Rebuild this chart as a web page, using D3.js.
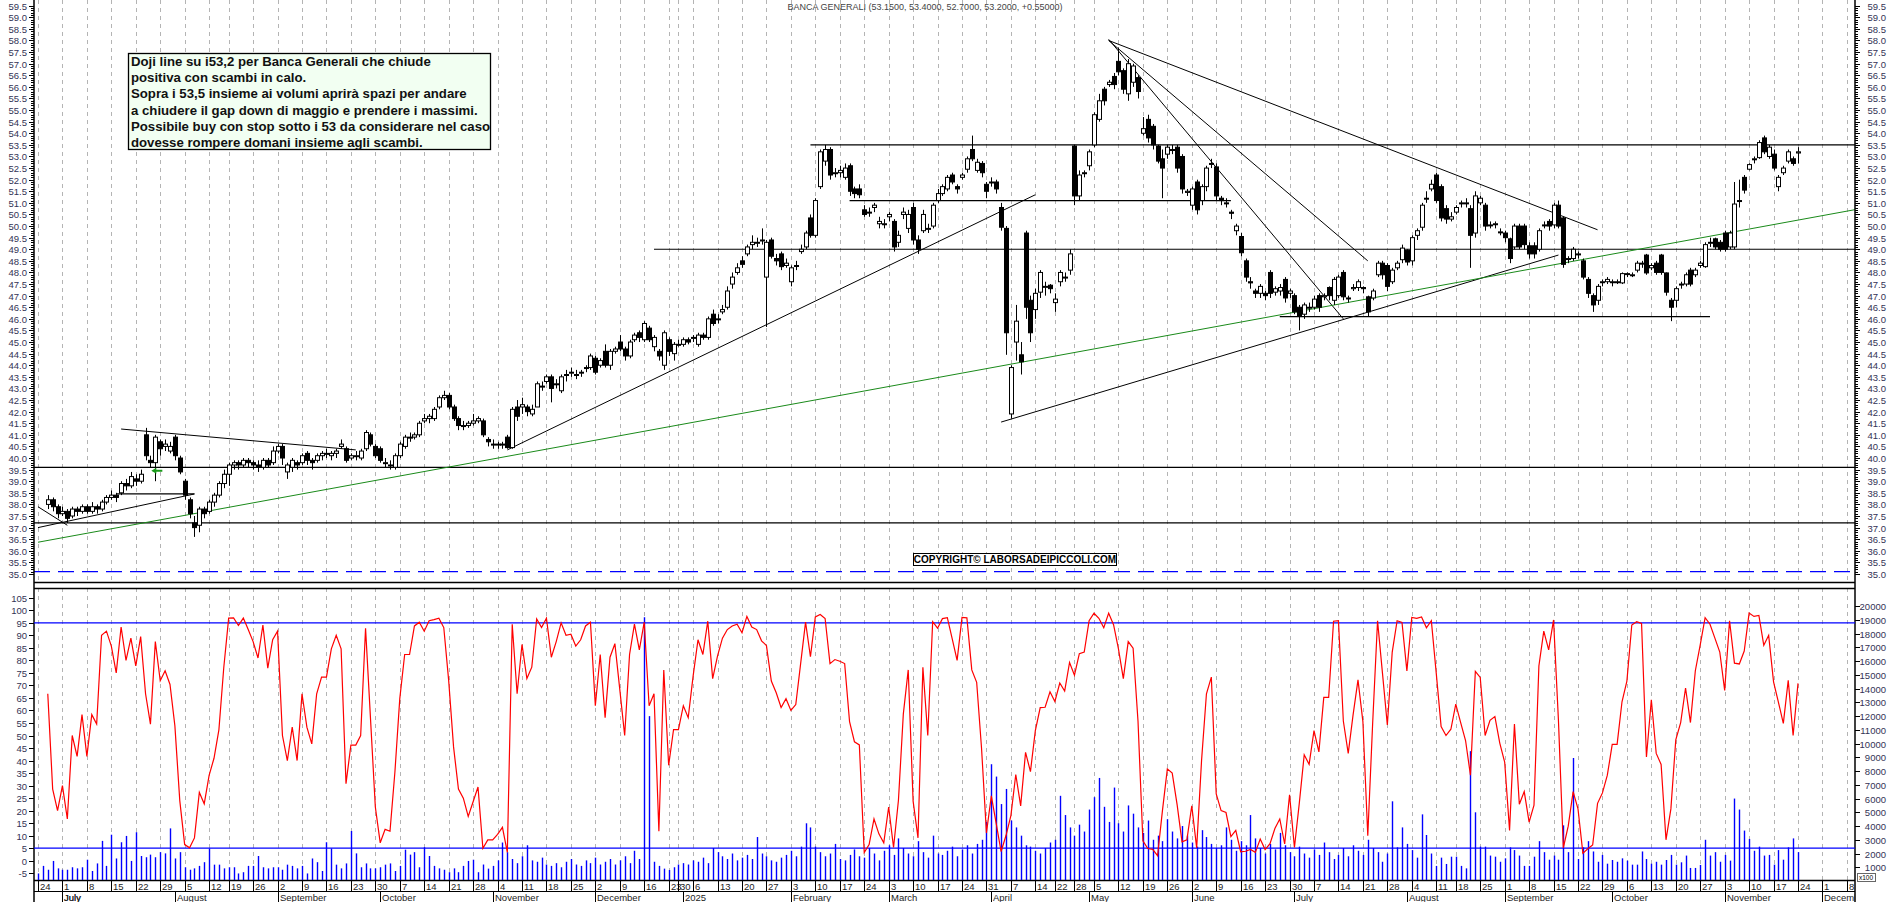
<!DOCTYPE html>
<html><head><meta charset="utf-8">
<script src="https://cdn.jsdelivr.net/npm/d3@7"></script>
<style>body{margin:0;background:#fff}svg{display:block}</style>
</head><body>
<svg id="c" width="1890" height="902"></svg>
<script>
// ---------- DATA ----------
const title = "BANCA GENERALI (53.1500, 53.4000, 52.7000, 53.2000, +0.55000)";
const holidays = ["2024-08-15","2024-12-24","2024-12-25","2024-12-26","2024-12-31","2025-01-01","2025-04-18","2025-04-21","2025-05-01","2025-08-15"];
const firstDay = "2024-06-24", lastDataDay = "2025-11-24", lastAxisDay = "2025-12-10";
// daily candles [open, close, high, low], oldest first, last = 2025-11-24
const ohlc = [
[38.0,38.2,38.4,37.8],[38.2,37.9,38.3,37.7],[37.9,37.6,38.0,37.4],[37.6,37.7,37.9,37.5],[37.7,37.4,37.8,37.2],
[37.5,37.8,37.9,37.4],[37.8,37.7,37.9,37.5],[37.7,37.9,38.0,37.6],[37.9,37.7,38.0,37.6],[37.7,37.9,38.1,37.6],
[37.9,37.8,38.0,37.6],[37.8,38.1,38.2,37.7],[38.1,38.3,38.4,38.0],[38.3,38.4,38.6,38.2],[38.4,38.3,38.5,38.1],
[38.5,38.9,39.0,38.4],[38.9,38.8,39.1,38.6],[38.8,39.2,39.4,38.7],[39.1,39.0,39.3,38.8],[39.0,39.3,39.5,38.9],
[41.0,40.1,41.3,39.9],[39.9,39.8,40.1,39.6],[39.8,40.9,41.0,39.0],[40.7,40.4,40.8,40.1],[40.5,40.6,40.8,40.3],
[40.3,40.5,40.7,40.2],[40.9,40.1,41.0,39.9],[40.0,39.4,40.1,39.3],[39.0,38.4,39.1,38.2],[38.2,37.6,38.3,37.4],
[37.2,37.0,37.5,36.6],[37.1,37.8,37.9,36.8],[37.8,37.6,37.9,37.4],[37.7,38.1,38.2,37.6],[38.1,38.4,38.5,37.9],
[38.4,38.9,39.0,38.3],[38.9,39.3,39.5,38.7],[39.3,39.7,39.8,38.8],[39.7,39.8,39.9,39.5],[39.8,39.7,39.9,39.5],
[39.7,39.9,40.0,39.6],[39.9,39.8,40.0,39.6],[39.8,39.7,39.9,39.5],[39.7,39.6,39.9,39.4],[39.6,39.9,40.0,39.5],
[39.9,39.7,40.0,39.6],[39.8,40.3,40.5,39.7],[40.3,40.5,40.6,40.2],[40.5,40.0,40.6,39.7],[39.4,39.7,39.8,39.1],
[39.6,39.9,40.0,39.4],[39.8,39.7,39.9,39.5],[39.8,40.1,40.2,39.7],[40.2,39.9,40.3,39.7],[39.9,39.8,40.0,39.5],
[39.9,40.1,40.2,39.8],[40.1,40.2,40.3,39.9],[40.2,40.2,40.4,40.0],[40.1,40.2,40.3,39.9],[40.2,40.3,40.4,40.0],
[40.5,40.6,40.8,40.4],[40.4,39.9,40.5,39.8],[40.0,40.1,40.2,39.9],[40.1,40.1,40.3,39.9],[40.0,40.3,40.4,39.9],
[40.4,41.1,41.2,40.3],[41.0,40.6,41.1,40.5],[40.5,40.1,40.6,40.0],[40.4,39.9,40.5,39.8],[39.8,39.8,40.0,39.6],
[39.7,39.7,39.9,39.5],[39.6,40.1,40.2,39.5],[40.1,40.6,40.7,40.0],[40.5,40.9,41.0,40.4],[40.9,40.9,41.1,40.7],
[40.9,41.0,41.1,40.8],[41.0,41.5,41.6,40.9],[41.6,41.7,41.9,41.5],[41.7,41.8,41.9,41.5],[41.7,42.1,42.2,41.6],
[42.2,42.6,42.7,42.1],[42.6,42.7,42.9,42.5],[42.7,42.2,42.8,42.1],[42.2,41.7,42.3,41.6],[41.7,41.4,41.8,41.2],
[41.4,41.4,41.6,41.2],[41.4,41.5,41.6,41.3],[41.5,41.6,41.9,41.4],[41.6,41.7,41.8,41.5],[41.6,41.0,41.7,40.9],
[40.8,40.7,40.9,40.5],[40.6,40.6,40.8,40.4],[40.6,40.6,40.7,40.4],[40.6,40.6,40.7,40.4],[40.9,40.45,41.0,40.4],
[40.45,42.1,42.2,40.4],[42.2,41.8,42.5,41.6],[42.2,42.3,42.6,41.9],[42.2,42.0,42.3,41.8],[41.9,42.1,42.3,41.8],
[42.2,43.2,43.3,42.2],[43.1,43.1,43.3,42.9],[43.3,43.5,43.6,43.2],[43.5,43.0,43.6,42.4],[43.2,43.2,43.4,43.0],
[42.9,43.5,43.6,42.8],[43.6,43.6,43.8,43.3],[43.7,43.7,43.9,43.5],[43.6,43.6,43.8,43.4],[43.7,43.7,43.8,43.5],
[43.9,43.9,44.0,43.7],[43.9,44.4,44.5,43.8],[44.3,43.7,44.4,43.6],[44.0,44.2,44.3,43.9],[44.6,44.0,44.9,43.9],
[44.0,44.6,44.7,43.8],[44.6,44.7,44.8,44.5],[45.0,44.7,45.3,44.6],[44.7,44.4,44.8,44.2],[44.4,45.0,45.1,44.3],
[45.1,45.3,45.4,45.0],[45.4,45.2,45.5,45.0],[45.1,45.8,45.9,45.0],[45.6,45.1,45.7,45.0],[44.8,45.2,45.3,44.6],
[44.6,44.4,44.7,44.2],[44.0,45.4,45.5,43.8],[45.1,44.6,45.2,44.4],[44.5,44.9,45.0,44.2],[44.9,44.9,45.1,44.8],
[44.9,45.1,45.2,44.8],[45.1,45.0,45.2,44.9],[45.2,45.2,45.3,45.0],[44.9,45.3,45.4,44.8],[45.3,45.2,45.4,45.1],
[45.2,46.0,46.1,45.1],[46.2,45.8,46.4,45.7],[46.0,46.0,46.2,45.8],[46.3,46.4,46.6,46.2],[46.5,47.2,47.4,46.4],
[47.5,47.8,48.0,47.3],[48.0,48.2,48.4,47.9],[48.5,48.35,48.7,48.2],[48.8,49.1,49.2,48.7],[49.2,49.3,49.6,49.0],
[49.3,49.3,49.5,49.1],[49.4,49.4,49.9,49.2],[47.8,49.3,49.4,45.65],[49.4,48.7,49.5,48.6],[48.6,48.5,48.8,48.3],
[48.8,48.25,48.9,48.1],[48.3,48.4,48.6,48.2],[47.6,48.2,48.3,47.4],[48.3,48.3,48.5,48.1],[48.9,49.0,49.2,48.8],
[49.1,49.7,49.8,49.0],[50.35,49.6,50.5,49.5],[49.6,51.1,51.2,49.5],[51.7,53.2,53.3,51.6],[52.8,53.3,53.5,52.6],
[53.3,52.2,53.4,52.0],[52.3,52.3,52.5,52.1],[52.3,52.4,52.6,52.1],[52.1,52.5,52.7,52.0],[52.6,51.5,52.7,51.3],
[51.6,51.4,51.7,51.2],[51.6,51.35,51.8,51.2],[50.7,50.5,50.9,50.4],[50.6,50.6,50.8,50.4],[50.8,50.9,51.0,50.6],
[50.1,50.2,50.4,49.9],[50.1,50.1,50.3,49.9],[50.4,50.5,50.6,50.2],[50.2,49.1,50.3,48.9],[49.3,49.6,49.8,49.1],
[50.5,50.6,50.8,50.3],[49.9,50.5,50.7,49.7],[50.8,49.4,51.0,49.2],[49.4,49.0,49.6,48.8],[49.8,50.5,50.7,49.7],
[49.9,49.9,50.1,49.7],[50.0,50.9,51.0,49.9],[51.1,51.4,51.6,51.0],[51.4,51.7,51.8,51.3],[51.6,52.1,52.2,51.5],
[52.2,51.9,52.3,51.8],[51.7,51.6,51.8,51.4],[52.1,52.2,52.3,52.0],[52.45,52.9,53.0,52.3],[53.3,52.9,53.9,52.8],
[52.4,52.75,52.9,52.3],[52.7,52.3,52.8,52.1],[51.8,51.5,51.9,51.2],[51.9,51.9,52.1,51.7],[51.9,51.6,52.0,51.4],
[50.8,49.95,51.0,49.8],[49.9,45.4,50.0,44.45],[41.9,43.9,44.0,41.7],[45.0,45.9,46.6,44.2],[44.45,44.15,45.0,43.6],
[49.7,46.5,49.8,46.0],[46.8,45.4,47.0,45.0],[46.4,47.1,47.3,46.0],[47.15,48.0,48.1,46.9],[47.4,47.4,47.6,47.0],
[47.45,47.3,47.5,47.1],[46.7,46.85,47.1,46.3],[47.6,48.0,48.1,47.4],[47.8,47.8,48.0,47.6],[48.1,48.8,49.0,47.9],
[53.45,51.3,53.5,50.9],[51.3,52.2,52.4,51.1],[52.3,52.3,52.4,52.1],[52.6,53.2,53.3,52.4],[53.5,54.8,54.9,53.4],
[54.6,55.4,55.7,54.5],[55.9,55.4,56.0,55.2],[56.1,56.2,56.3,56.0],[56.45,56.1,56.6,55.9],[57.1,56.65,57.7,56.5],
[56.7,55.9,56.8,55.7],[55.7,57.0,57.2,55.4],[56.2,56.9,57.0,56.0],[56.4,55.8,56.5,55.5],[54.0,54.2,54.7,53.9],
[54.6,53.8,54.8,53.6],[54.3,53.5,54.4,53.3],[53.45,52.8,53.5,52.7],[52.9,52.5,53.3,51.2],[53.1,53.4,53.5,52.9],
[53.3,53.3,53.5,53.1],[53.4,52.5,53.5,52.3],[53.0,51.6,53.1,51.4],[51.45,51.5,51.6,51.3],[50.9,51.6,51.7,50.7],
[51.9,50.7,52.0,50.5],[51.1,51.7,51.8,50.9],[51.7,52.5,52.6,51.5],[52.7,52.7,52.9,52.5],[52.55,51.3,52.7,51.1],
[51.2,51.1,51.3,50.9],[51.0,51.0,51.2,50.8],[50.6,50.55,50.7,50.3],[49.8,50.0,50.1,49.6],[49.55,48.85,49.7,48.7],
[48.5,47.8,48.6,47.6],[47.6,47.55,47.8,47.3],[47.2,47.1,47.3,46.9],[47.1,47.4,47.5,46.9],[47.1,47.0,47.2,46.8],
[48.0,47.1,48.1,46.9],[47.15,47.3,47.4,47.0],[47.2,47.35,47.5,47.0],[47.7,46.9,47.8,46.7],[47.1,47.2,47.3,46.9],
[47.0,46.3,47.1,46.2],[46.5,46.1,46.6,45.5],[46.2,46.6,46.7,46.0],[46.5,46.5,46.7,46.3],[46.5,46.85,47.0,46.4],
[47.0,46.5,47.1,46.3],[46.95,47.0,47.1,46.8],[47.35,47.0,47.4,46.8],[46.8,47.7,47.8,46.6],[47.0,47.8,47.9,46.9],
[48.0,46.95,48.1,46.8],[46.9,46.9,47.0,46.7],[47.3,47.35,47.5,47.2],[47.35,47.6,47.7,47.2],[47.35,47.3,47.4,47.1],
[46.95,46.3,47.0,46.1],[46.9,47.2,47.3,46.8],[47.9,48.4,48.5,47.8],[48.4,47.9,48.5,47.7],[48.3,47.4,48.4,47.2],
[47.6,48.1,48.2,47.5],[48.2,48.4,48.5,48.1],[48.55,49.05,49.2,48.4],[48.95,48.45,49.0,48.3],[48.5,49.5,49.6,48.3],
[49.6,49.8,49.9,49.4],[49.95,50.9,51.0,49.8],[51.2,51.2,51.5,51.0],[51.6,51.8,52.0,51.5],[52.2,51.1,52.3,51.0],
[51.7,50.35,51.8,50.2],[50.75,50.3,50.9,50.1],[50.3,50.4,50.6,50.2],[50.6,50.8,50.9,50.5],[51.0,51.0,51.1,50.8],
[51.0,51.0,51.2,50.8],[50.75,49.6,50.9,48.2],[49.7,51.3,51.5,49.5],[51.0,51.2,51.3,50.9],[50.9,50.0,51.0,49.8],
[50.05,50.05,50.2,49.9],[50.1,50.1,50.2,49.9],[49.75,49.75,49.9,49.6],[49.7,49.5,49.8,49.3],[49.45,48.6,49.5,48.4],
[49.1,50.0,50.1,49.0],[50.0,49.1,50.1,49.0],[50.0,49.2,50.1,49.0],[49.15,48.8,49.3,48.6],[49.15,48.8,49.3,48.6],
[49.0,49.8,49.9,48.9],[50.05,50.05,50.2,49.9],[50.2,50.0,50.3,49.8],[50.05,50.9,51.0,49.9],[50.9,50.0,51.1,49.9],
[50.35,48.35,50.4,48.2],[48.6,48.6,48.7,48.4],[48.6,49.0,49.1,48.5],[48.8,48.8,48.9,48.6],[48.5,47.8,48.6,47.7],
[47.7,47.1,47.8,46.9],[47.0,46.6,47.1,46.3],[46.8,47.4,47.5,46.6],[47.6,47.6,47.7,47.4],[47.6,47.7,47.8,47.5],
[47.6,47.6,47.7,47.4],[47.6,47.6,47.7,47.5],[47.55,47.95,48.0,47.5],[47.95,47.95,48.0,47.8],[47.9,47.9,48.0,47.8],
[48.1,48.4,48.5,48.0],[48.4,48.4,48.5,48.2],[48.75,47.98,48.8,47.9],[48.2,48.3,48.4,48.1],[48.4,48.0,48.5,47.9],
[48.75,48.0,48.8,47.9],[47.98,47.15,48.0,47.0],[46.8,46.5,46.9,45.9],[46.8,47.3,47.4,46.5],[47.5,47.5,47.6,47.3],
[47.5,47.9,48.0,47.4],[48.1,47.5,48.2,47.4],[47.9,48.1,48.2,47.8],[48.3,48.4,48.5,48.2],[48.25,49.2,49.3,48.2],
[49.3,49.3,49.5,49.1],[49.45,49.1,49.5,49.0],[49.3,49.0,49.4,48.9],[49.7,49.0,49.8,48.9],[49.1,49.7,49.8,49.0],
[49.1,50.95,51.9,49.0],[51.1,51.1,52.0,50.8],[52.1,51.55,52.2,51.4],[52.45,52.65,52.7,52.4],[52.9,52.9,53.0,52.7],
[52.95,53.6,53.7,52.9],[53.8,53.2,53.9,53.1],[53.0,53.4,53.5,52.9],[53.1,52.5,53.3,52.4],[51.7,52.1,52.2,51.5],
[52.3,52.5,52.6,52.2],[52.8,53.2,53.3,52.7],[52.9,52.7,53.0,52.6],[53.15,53.2,53.4,52.7]
];
// volumes (x100 shares), oldest first, aligned to the last candle
const volEarly = [820,550,1100,820,1460,920,820,820,1000,920,1000,1550,730,1280,2920,1100,3370,1640,2820,3280,1460,3550,1820,1730,1920,1730,2100,2010,3830,1640,2100,1000,820,920,1100,1370,2370,1190,1190,920,1000,1000,550,640,1100,1100,1820,1000,920,1000,1000,820,1190,1100,920,1100,550,1640,1370,730,2820,2370,1190,920,1280,3640,2010,1000,1280,920,920,1000,1190,1280,730,1100,2280,1920,2100,1000,2460,1820,1100,920,820,640,920,640,1100,1460,1550,640];
const volMid = [1200,900,1100,1500,2800,2100,1600,1300,1800,2600,1500,1400,1700,1200,1100,1300,1000,1400,1600,1200,1100,1500,
1300,1700,1200,1400,1600,1200,1500,1800,1300,2200,1600,19200,12000,1400,1100,900,800,1000,1200,1300,
1200,1500,1400,1700,1300,2400,2100,1800,1600,2000,1500,1700,1900,1600,3200,2000,1800,1500,1400,1700,
1900,2200,1800,2500,4200,3900,2500,2100,1800,2000,2700,1600,1500,1900,2300,1800,1700,2400,2000,1500,
2200,2600,1900,3100,2400,2000,1800,2900,2100,1700,3300,2000,1900,2200,2500,1800,2300,2600,2000,2700,3000,4300,
8500,7600,5600,6700,4400,3900,3300,2600,2500,2200,2000,2400,2800,3000,6200,4800,3900,3300,4100,3600,
5200,6100,7500,5400,4300,6800,4200,3600,5500,4900,3900,3500,4400,3000,3300,2900,4500,3600,3100,4000,
3300,2800,2500,3700,3200,2700,2400,2600,3900,3000,2200,2900,2600,4800,3100,2400,2000,2700,2300,3500,
2600,2100,1800,2500,2000,1700,2300,1900,2800,2100,1600,1900,2400,1800,2600,2200,1900,3000,2400,2100];
const volLate = [1400,2000,5800,2450,3900,2700,2250,1700,4850,3350,2000,1100,1700,1240,1770,1770,1100,920,9450,5000,2500,2500,1850,1770,1400,1650,2450,2250,1850,1100,1100,1770,2900,2100,1550,1850,1550,4050,2100,8950,1600,2450,2900,2150,1400,1900,1260,1530,1400,1650,1480,1190,1190,2150,1600,1260,1400,1190,1530,1900,1190,1360,1850,950,950,1170,3000,1850,2100,1400,1900,1480,6000,5200,3670,3060,2200,2500,1850,1900,1190,2250,1550,2450,3100,2100];
// horizontal levels and trendlines drawn on the chart [date, price]
const levels = [
  {from:"2025-02-07", to:"end", p:53.5},
  {from:"2025-02-19", to:"2025-06-12", p:51.1},
  {from:"2024-12-18", to:"end", p:49.0},
  {from:"2025-06-26", to:"2025-10-29", p:46.1},
  {from:"start", to:"end", p:39.6},
  {from:"start", to:"end", p:37.2},
  {from:"2024-07-16", to:"2024-08-07", p:38.45}
];
const trendlines = [
  {a:["2024-11-06",40.35], b:["2025-04-14",51.35], color:"#000"},
  {a:["2025-04-03",41.55], b:["2025-09-16",48.75], color:"#000"},
  {a:["2025-05-08",58.0], b:["2025-09-26",49.84], color:"#000"},
  {a:["2025-05-08",58.0], b:["2025-07-22",48.5], color:"#000"},
  {a:["2025-05-08",58.05], b:["2025-07-15",46.0], color:"#000"},
  {a:["2024-07-17",41.25], b:["2024-09-24",40.35], color:"#000"},
  {a:["2024-06-24",37.0], b:["2024-08-07",38.45], color:"#000"},
  {a:["2024-06-24",37.9], b:["2024-07-02",37.1], color:"#000"},
  {a:["2024-06-24",36.37], b:["2025-12-10",50.72], color:"#1a8a1a"}
];
const dashedLevel = 35.1;
const stochLevels = [95, 5];
const noteLines = ["Doji line su i53,2 per Banca Generali che chiude","positiva con scambi in calo.","Sopra i 53,5 insieme ai volumi aprirà spazi per andare","a chiudere il gap down di maggio e prendere i massimi.","Possibile buy con stop sotto i 53 da considerare nel caso","dovesse rompere domani insieme agli scambi."];
const copyright = "COPYRIGHT© LABORSADEIPICCOLI.COM";

(function(){
const fmt = d3.utcFormat("%Y-%m-%d");
const hol = new Set(holidays);
const days = d3.utcDays(new Date(firstDay+"T00:00Z"), d3.utcDay.offset(new Date(lastAxisDay+"T00:00Z"),1))
  .filter(d => d.getUTCDay()>0 && d.getUTCDay()<6 && !hol.has(fmt(d)));
const dayIdx = new Map(days.map((d,i)=>[fmt(d),i]));
const lastIdx = dayIdx.get(lastDataDay);
const N = ohlc.length, start = lastIdx - N + 1;
const candles = ohlc.map((r,i)=>({i:start+i,o:r[0],c:r[1],h:r[2],l:r[3]}));
const vols = volEarly.concat(volMid, volLate);
const volData = vols.map((v,k)=>({i:lastIdx - (vols.length-1-k), v})).filter(d=>d.i>=0);
// stochastic %K(10) of the candles
const rawK = candles.map((d,k)=>{const w=candles.slice(Math.max(0,k-9),k+1);const hh=d3.max(w,e=>e.h),ll=d3.min(w,e=>e.l);return hh>ll?(d.c-ll)/(hh-ll)*100:50;});
const stoch = rawK.map((v,k)=>({i:candles[k].i, v:Math.max(1,Math.min(99,v))}));

const L=34, R=1855;
const x = d3.scaleLinear().domain([0, lastIdx]).range([38, 1798]);
const y = d3.scaleLinear().domain([35.0, 59.5]).range([574, 5.7]);
const ys = d3.scaleLinear().domain([0,100]).range([860.7, 610.3]);
const yv = d3.scaleLinear().domain([0,20000]).range([881, 606.2]);
const xd = s => s==="start"?L : s==="end"?R : x(dayIdx.get(s));

const svg = d3.select("#c");
const defs = svg.append("defs");
defs.append("clipPath").attr("id","topc").append("rect").attr("x",L).attr("y",0).attr("width",R-L).attr("height",582);
defs.append("clipPath").attr("id","botc").append("rect").attr("x",L).attr("y",588).attr("width",R-L).attr("height",292);
defs.append("clipPath").attr("id","axc").append("rect").attr("x",L).attr("y",880).attr("width",R-L).attr("height",22);

const weekStarts = days.map((d,i)=>({d,i})).filter((o,k)=>k===0 || d3.utcMonday.floor(o.d).getTime()!==d3.utcMonday.floor(days[k-1]).getTime());
const grid = svg.append("g").attr("stroke","#b4b4b4").attr("stroke-dasharray","4,4");
weekStarts.forEach(w=>{const xx=Math.round(x(w.i))+0.5;
  grid.append("line").attr("x1",xx).attr("x2",xx).attr("y1",0).attr("y2",582);
  grid.append("line").attr("x1",xx).attr("x2",xx).attr("y1",588).attr("y2",880);});

const topG = svg.append("g").attr("clip-path","url(#topc)");
levels.forEach(l=>topG.append("line").attr("x1",xd(l.from)).attr("x2",xd(l.to)).attr("y1",y(l.p)).attr("y2",y(l.p)).attr("stroke","#000").attr("stroke-width",1.2));
topG.append("line").attr("x1",L).attr("x2",R).attr("y1",y(dashedLevel)).attr("y2",y(dashedLevel)).attr("stroke","#0000ff").attr("stroke-width",1.3).attr("stroke-dasharray","16,8");
trendlines.forEach(t=>topG.append("line").attr("x1",xd(t.a[0])).attr("y1",y(t.a[1])).attr("x2",xd(t.b[0])).attr("y2",y(t.b[1])).attr("stroke",t.color).attr("stroke-width",1));
const cg = topG.append("g");
candles.forEach(d=>{
  const cx = Math.round(x(d.i))+0.5;
  cg.append("line").attr("x1",cx).attr("x2",cx).attr("y1",y(d.h)).attr("y2",y(d.l)).attr("stroke","#000");
  const t=y(Math.max(d.o,d.c)), b=y(Math.min(d.o,d.c));
  cg.append("rect").attr("x",cx-2).attr("y",t).attr("width",4).attr("height",Math.max(1,b-t))
    .attr("fill",d.c>=d.o?"#fff":"#000").attr("stroke","#000").attr("stroke-width",1);
});
const ai = dayIdx.get("2024-07-26");
topG.append("path").attr("d",`M${x(ai)-4},${y(39.45)} l5,-3 v2 h6 v2 h-6 v2 z`).attr("fill","#1a9a1a");

svg.append("text").attr("x",925).attr("y",10).attr("text-anchor","middle").attr("font-family","Liberation Sans, Arial").attr("font-size",9).attr("fill","#444").text(title);
const nb = svg.append("g");
nb.append("rect").attr("x",128.5).attr("y",53.5).attr("width",362).attr("height",96).attr("fill","#f2fff2").attr("stroke","#000").attr("stroke-width",1.3);
noteLines.forEach((t,k)=>nb.append("text").attr("x",131).attr("y",66+k*16.2).attr("font-family","Liberation Sans, Arial").attr("font-weight","bold").attr("font-size",13.2).attr("fill","#111").text(t));
svg.append("rect").attr("x",913.5).attr("y",553.5).attr("width",203).attr("height",12).attr("fill","#fff").attr("stroke","#000");
svg.append("text").attr("x",1015).attr("y",563).attr("text-anchor","middle").attr("font-family","Liberation Sans, Arial").attr("font-weight","bold").attr("font-size",10).text(copyright);

const fr = svg.append("g").attr("stroke","#000");
fr.append("line").attr("x1",L).attr("x2",R).attr("y1",582.5).attr("y2",582.5).attr("stroke-width",1.3);
fr.append("line").attr("x1",L).attr("x2",R).attr("y1",588.5).attr("y2",588.5).attr("stroke-width",1.3);
fr.append("line").attr("x1",L).attr("x2",L).attr("y1",0).attr("y2",902).attr("stroke-width",1.5);
fr.append("line").attr("x1",R).attr("x2",R).attr("y1",0).attr("y2",902).attr("stroke-width",1.5);
fr.append("line").attr("x1",L).attr("x2",R).attr("y1",880.5).attr("y2",880.5).attr("stroke-width",1.3);
fr.append("line").attr("x1",L).attr("x2",R).attr("y1",891.5).attr("y2",891.5);

const bot = svg.append("g").attr("clip-path","url(#botc)");
stochLevels.forEach(s=>bot.append("line").attr("x1",L).attr("x2",R).attr("y1",ys(s)).attr("y2",ys(s)).attr("stroke","#0000ff").attr("stroke-width",1.3));
volData.forEach(d=>bot.append("line").attr("x1",Math.round(x(d.i))+0.5).attr("x2",Math.round(x(d.i))+0.5).attr("y1",yv(0)).attr("y2",yv(d.v)).attr("stroke","#0000ff").attr("stroke-width",1.4));
bot.append("path").datum(stoch).attr("fill","none").attr("stroke","#ff0000").attr("stroke-width",1.2)
  .attr("d",d3.line().x(d=>x(d.i)).y(d=>ys(d.v)));

const axT = svg.append("g").attr("font-family","Liberation Sans, Arial").attr("font-size",9.5).attr("fill","#333355");
d3.range(350,596).forEach(k=>{const p=k/10, yy=Math.round(y(p))+0.5, major=k%5===0;
  axT.append("line").attr("x1",major?29:31).attr("x2",L).attr("y1",yy).attr("y2",yy).attr("stroke","#000");
  axT.append("line").attr("x1",R).attr("x2",major?R+5:R+3).attr("y1",yy).attr("y2",yy).attr("stroke","#000");
  if(major){axT.append("text").attr("x",27).attr("y",yy+3.5).attr("text-anchor","end").text(p.toFixed(1));
    axT.append("text").attr("x",1886).attr("y",yy+3.5).attr("text-anchor","end").text(p.toFixed(1));}
});
d3.range(-5,106,5).forEach(s=>{const yy=Math.round(ys(s))+0.5;
  axT.append("line").attr("x1",29).attr("x2",L).attr("y1",yy).attr("y2",yy).attr("stroke","#000");
  axT.append("text").attr("x",27).attr("y",yy+3.5).attr("text-anchor","end").text(s);});
d3.range(1000,20001,1000).forEach(v=>{const yy=Math.round(yv(v))+0.5;
  axT.append("line").attr("x1",R).attr("x2",R+5).attr("y1",yy).attr("y2",yy).attr("stroke","#000");
  axT.append("text").attr("x",1886).attr("y",yy+3.5).attr("text-anchor","end").text(v);});
svg.append("rect").attr("x",1857.5).attr("y",873.5).attr("width",18).attr("height",8).attr("fill","#fff").attr("stroke","#666");
svg.append("text").attr("x",1866).attr("y",880).attr("text-anchor","middle").attr("font-family","Liberation Sans, Arial").attr("font-size",6.5).text("x100");

const dax = svg.append("g").attr("clip-path","url(#axc)").attr("font-family","Liberation Sans, Arial").attr("font-size",9.5).attr("fill","#222");
weekStarts.forEach(w=>{const xx=Math.round(x(w.i))+0.5;
  dax.append("line").attr("x1",xx).attr("x2",xx).attr("y1",880).attr("y2",891).attr("stroke","#000");
  dax.append("text").attr("x",xx+1.5).attr("y",889.5).text(w.d.getUTCDate());});
const mStarts = days.map((d,i)=>({d,i})).filter((o,k)=>k>0 && o.d.getUTCMonth()!==days[k-1].getUTCMonth());
const mLabel = d => d.getUTCMonth()===0 ? String(d.getUTCFullYear()) : d3.utcFormat("%B")(d);
dax.append("text").attr("x",x(5)+1.5).attr("y",900.5).text("July");
mStarts.forEach(m=>{const xx=Math.round(x(m.i))+0.5;
  dax.append("line").attr("x1",xx).attr("x2",xx).attr("y1",891).attr("y2",902).attr("stroke","#000");
  dax.append("text").attr("x",xx+1.5).attr("y",900.5).text(mLabel(m.d));});
})();
</script>
</body></html>
